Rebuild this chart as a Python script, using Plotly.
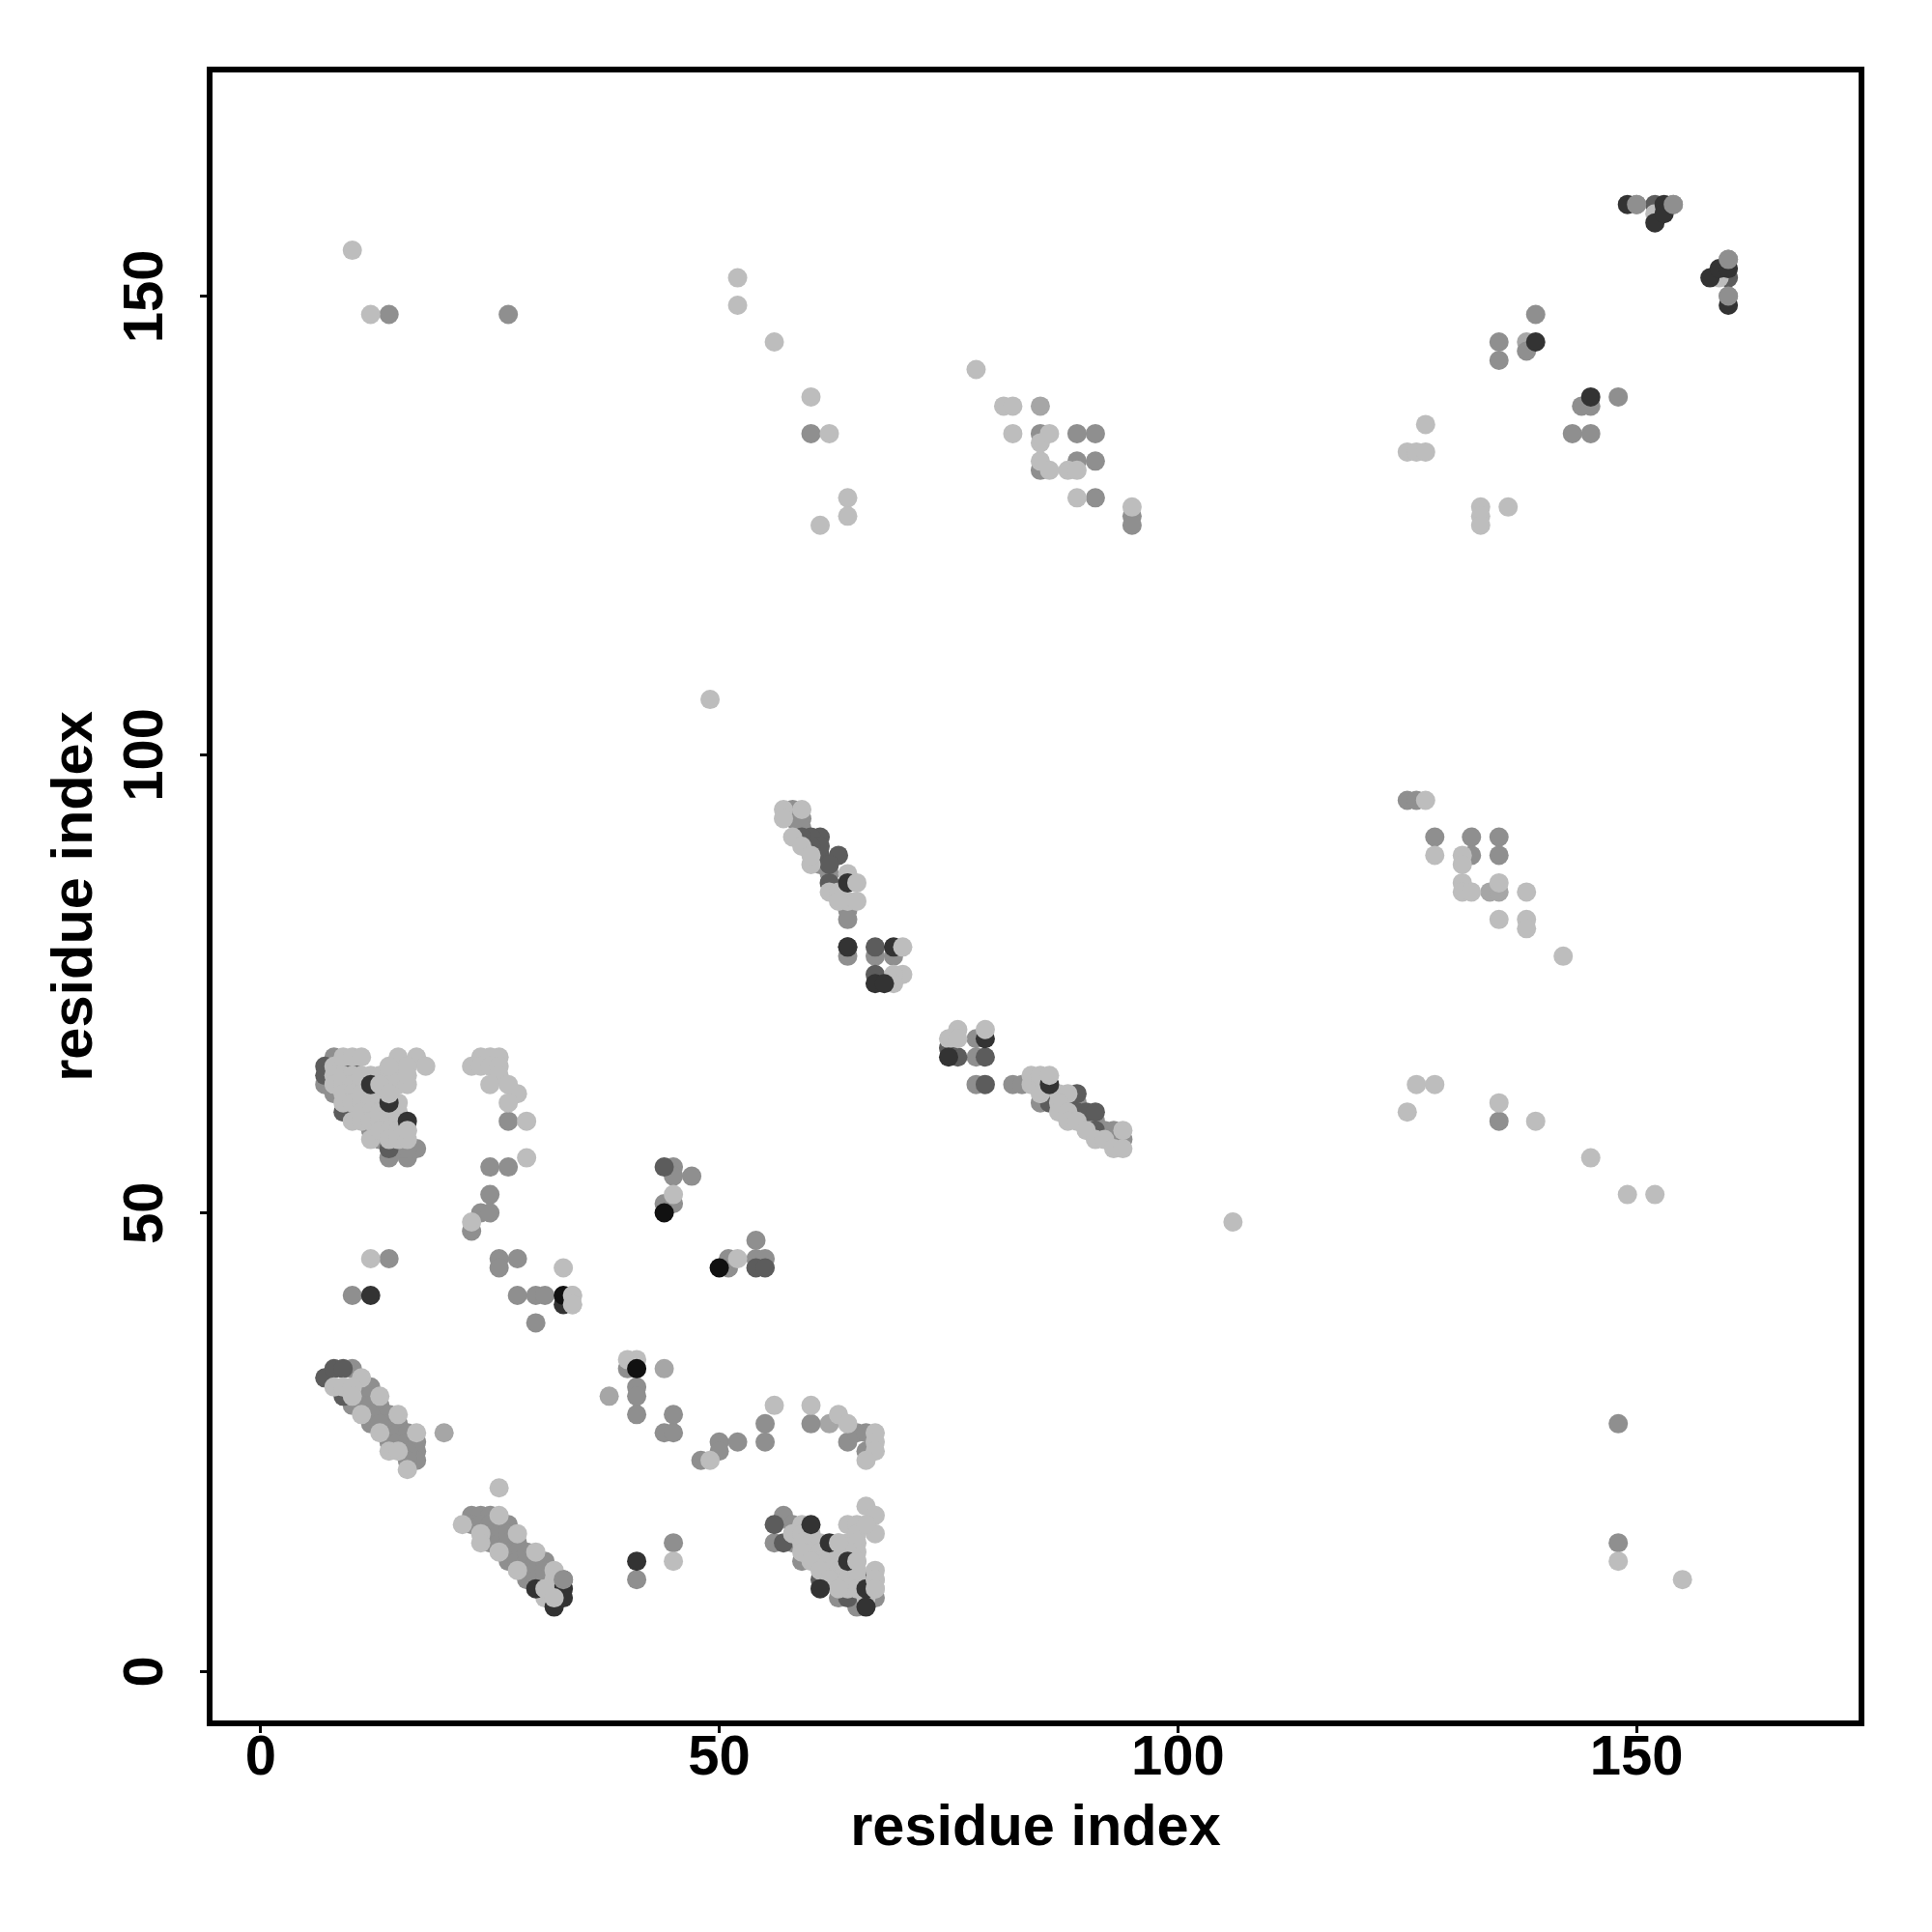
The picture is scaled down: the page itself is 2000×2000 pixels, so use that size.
import plotly.graph_objects as go

x_ticks = [0, 50, 100, 150]
y_ticks = [0, 50, 100, 150]
axis_title = "residue index"

# contacts grouped by gray level, drawn in this order
mid_light_points = [(38,30),(20,26),(44,33),(62,27),(138,145),(134,85),(135,85),(85,138)]
mid_points = [
 (14,148),(27,148),(60,135),(85,135),(85,131),(89,135),(91,135),(89,132),(91,132),(91,128),(95,126),(95,125),
 (135,145),(135,143),(138,144),(139,148),(143,135),(145,135),(144,138),(145,138),(148,139),(150,160),(154,160),
 (160,154),(160,150),(23,48),(25,52),(24,50),(25,50),(25,55),(27,55),(27,60),(14,45),(10,41),(26,45),(26,44),(28,45),
 (28,41),(30,41),(31,41),(30,38),(45,55),(45,54),(47,54),(44,51),(45,51),(51,45),(51,44),(54,47),(54,45),(55,45),
 (40,33),(41,31),(41,30),(41,28),(45,28),(44,26),(45,26),(48,23),(50,25),(50,24),(52,25),(55,27),(55,25),(60,27),
 (64,25),(65,26),(66,26),(66,24),(41,10),(45,14),(148,27),(148,14),(135,60),(125,95),(126,95),(128,91),(132,91),
 (135,91),(132,89),(135,89),
 (8,67),(7,64),(8,63),(16,56),(17,57),(14,56),(15,57),(16,57),(12,59),(13,58),
 (57,17),(56,14),(58,16),(58,14),(59,12),(63,8),(65,7),(67,8),
 (58,94),(58,93),(59,93),(59,92),(64,83),(64,82),(64,78),(67,78),(69,78),(60,90),(61,88),(62,87),
 (78,69),(78,67),(78,64),(82,64),(83,64),(85,62),(89,62),(91,60),(92,59),(93,59),(94,58),(93,58),(90,60),
 (10,29),(10,33),(12,31),(11,30),(12,30),(11,29),(12,29),(12,27),(13,29),(13,28),(12,28),(14,28),(14,27),(14,26),(14,25),
 (13,27),(15,27),(15,26),(15,25),(16,26),(16,25),(17,25),(17,24),(17,23),(16,24),(16,23),
 (23,17),(24,17),(25,17),(23,16),(24,16),(25,16),(26,16),(25,15),(26,15),(25,14),(26,14),(27,16),(27,15),(27,14),(28,14),
 (27,13),(28,13),(27,12),(28,12),(29,13),(29,12),(29,11),(29,10),(30,12),(30,11),(30,10),(31,12),(31,11),(31,10),
]
light_points = [
 (10,155),(12,148),(52,152),(52,149),(56,145),(60,139),(62,135),(61,125),(64,128),(64,126),(78,142),(81,138),(82,138),
 (82,135),(85,134),(86,135),(85,132),(86,131),(88,131),(89,131),(89,128),(95,127),(125,133),(126,133),(127,133),(127,136),
 (133,127),(133,126),(133,125),(136,127),(49,106),(106,49),(23,49),(23,66),(24,67),(25,67),(26,67),(24,66),(25,66),(26,66),
 (26,65),(25,64),(27,64),(28,63),(27,62),(29,60),(29,56),(12,45),(33,44),(34,41),(34,40),(45,52),(52,45),(40,34),(41,34),
 (49,23),(56,29),(60,29),(63,28),(64,27),(67,26),(67,25),(67,24),(66,23),(45,12),(148,12),(155,10),(125,61),(126,64),(128,64),
 (135,62),(139,60),(145,56),(149,52),(152,52),(127,95),(128,89),(131,89),(131,88),(131,86),(131,85),(132,85),(135,86),
 (138,85),(135,82),(138,82),(138,81),(142,78),(159,152),(152,159),
]
dark_mid_points = [
 (7,66),(7,65),(9,66),(10,66),(9,61),(10,61),(8,64),(14,57),
 (7,32),(8,33),(9,33),(9,30),(56,16),(57,14),(61,10),(64,8),(66,10),(33,10),
 (61,91),(60,91),(59,91),(63,89),(61,89),(62,88),(62,86),(64,79),(67,79),(67,76),(61,90),(60,90),
 (76,67),(79,67),(79,64),(75,68),(86,62),(88,62),(89,63),(89,61),(90,61),(91,61),(91,59),(152,160),(160,152),(44,55),(54,44),(55,44),
]
cluster_light_points = [
 (8,66),(8,65),(8,64),(9,67),(10,67),(11,67),(9,65),(10,65),(11,65),(9,64),(10,64),(11,64),(9,63),(10,63),(11,63),(12,63),
 (9,62),(10,62),(11,62),(12,62),(13,62),(10,60),(11,61),(12,61),(13,61),(14,61),(11,60),(12,60),(13,60),(14,60),(15,60),
 (12,65),(13,65),(14,65),(15,65),(13,64),(14,64),(15,64),(13,63),(14,63),(16,64),(15,67),(17,67),(18,66),(16,66),(16,65),(12,58),
 (13,59),(14,59),(15,59),(14,58),(15,58),(16,59),(16,58),(15,61),(15,62),(14,66),
 (11,32),(8,31),(9,31),(10,31),(10,30),(13,30),(11,28),(15,28),(13,26),(17,26),(14,24),(15,24),(16,22),
 (26,20),(22,16),(26,17),(24,15),(24,14),(26,13),(28,15),(28,11),(30,13),(32,11),(32,10),(31,9),(31,8),(32,9),(32,8),
 (59,16),(58,15),(59,15),(60,15),(59,14),(60,14),(61,14),(60,13),(61,13),(62,13),(63,14),(61,12),(62,12),(63,12),(59,13),(60,12),
 (62,11),(63,11),(64,11),(63,10),(64,10),(65,10),(64,9),(65,9),(61,11),(62,10),(63,9),(64,14),(64,16),(65,16),(66,18),(67,17),(67,15),
 (65,15),(65,14),(65,13),(64,13),(65,11),(65,12),(63,13),(66,16),(66,8),(67,11),(67,10),(67,9),
 (57,94),(57,93),(58,91),(59,90),(60,88),(60,89),(62,85),(63,85),(64,87),(64,84),(65,84),(63,84),(70,76),(69,76),(69,75),
 (75,69),(76,70),(76,69),(84,65),(84,64),(85,64),(85,63),(85,65),(87,63),(88,63),(87,62),(87,61),(88,61),(88,60),(89,60),(90,59),(91,58),(92,58),(93,57),(94,57),
]
dark_points = [
 (12,64),(14,62),(16,60),(30,9),(32,7),(33,9),(33,8),(60,16),(62,14),(64,12),(61,9),(66,9),(66,7),
 (64,86),(64,79),(69,79),(67,75),(68,75),(75,67),(79,69),(86,64),(139,145),(145,139),(149,160),(153,160),(152,158),(153,159),
 (158,152),(159,153),(160,153),(160,149),(12,41),(33,40),(41,12),
]
black_points = [(33,41),(44,50),(50,44),(41,33)]
top_mid_points = [(150,160),(154,160),(160,154),(160,150),(33,10)]
top_light_points = [(59,94),(65,86),(70,79),(79,70),(86,65),(94,59),(34,41),(34,40),(13,64),(14,63),(16,59),
                    (63,14),(65,12),(67,10),(67,9),(31,9),(32,8)]

layers = [
    (mid_light_points, "#a6a6a6"),
    (mid_points, "#8f8f8f"),
    (dark_mid_points, "#5c5c5c"),
    (light_points, "#bdbdbd"),
    (cluster_light_points, "#bdbdbd"),
    (dark_points, "#333333"),
    (black_points, "#111111"),
    (top_mid_points, "#8f8f8f"),
    (top_light_points, "#bdbdbd"),
]

fig = go.Figure()
for pts, colour in layers:
    fig.add_trace(go.Scatter(
        x=[p[0] for p in pts], y=[p[1] for p in pts], mode="markers",
        marker=dict(size=20, color=colour, line=dict(width=0)), showlegend=False))

FONT = dict(family="Liberation Sans", color="#000000")
common = dict(showgrid=False, zeroline=False, showline=True, mirror=True, linecolor="#000000", linewidth=6,
              ticks="outside", ticklen=7, tickwidth=3, tickcolor="#000000",
              tickfont=dict(size=58, **FONT, weight="bold"))
title_font = dict(size=59.5, **FONT)
fig.update_xaxes(range=[-5.24, 174.2], tickvals=x_ticks, ticklabelstandoff=-27,
                 title=dict(text="<b>%s</b>" % axis_title, font=title_font, standoff=23), **common)
fig.update_yaxes(range=[-5.37, 174.4], tickvals=y_ticks, tickangle=-90, ticklabelstandoff=16, ticklabelshift=9,
                 title=dict(text="<b>%s</b>" % axis_title, font=title_font, standoff=2), **common)
fig.update_layout(width=2000, height=2000, margin=dict(l=211.5, r=84, t=66.5, b=227, autoexpand=False),
                  paper_bgcolor="white", plot_bgcolor="white")
fig.write_html("out.html")
